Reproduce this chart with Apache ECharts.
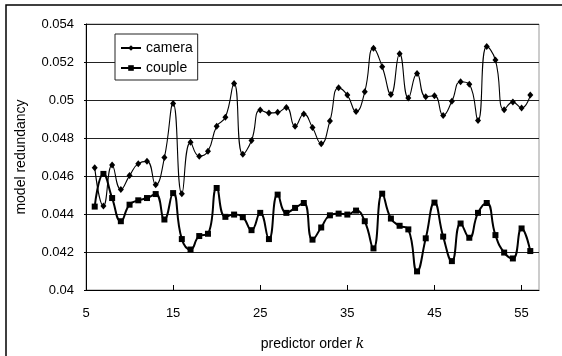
<!DOCTYPE html>
<html>
<head>
<meta charset="utf-8">
<script src="https://cdn.jsdelivr.net/npm/echarts@6/dist/echarts.min.js"></script>
<style>
  html, body { margin: 0; padding: 0; background: #fff; }
  #chart { width: 562px; height: 356px; }
</style>
</head>
<body>
<div id="chart"></div>
<script>
const orders = [6, 7, 8, 9, 10, 11, 12, 13, 14, 15, 16, 17, 18, 19, 20, 21, 22, 23, 24, 25,
  26, 27, 28, 29, 30, 31, 32, 33, 34, 35, 36, 37, 38, 39, 40, 41, 42, 43, 44, 45,
  46, 47, 48, 49, 50, 51, 52, 53, 54, 55, 56];

const camera = [0.04644, 0.04442, 0.04658, 0.04529, 0.04602, 0.04665, 0.04677, 0.04554, 0.04697, 0.04982,
  0.04507, 0.04777, 0.04704, 0.04730, 0.04862, 0.04909, 0.05087, 0.04714, 0.04787, 0.04947,
  0.04932, 0.04935, 0.04961, 0.04862, 0.04926, 0.04855, 0.04770, 0.04890, 0.05064, 0.05026,
  0.04939, 0.05043, 0.05273, 0.05175, 0.05029, 0.05243, 0.05010, 0.05139, 0.05017, 0.05022,
  0.04919, 0.04993, 0.05096, 0.05083, 0.04892, 0.05282, 0.05210, 0.04949, 0.04989, 0.04958,
  0.05026];

const couple = [0.04439, 0.04611, 0.04484, 0.04362, 0.04449, 0.04472, 0.04484, 0.04505, 0.04371, 0.04510,
  0.04268, 0.04213, 0.04284, 0.04296, 0.04537, 0.04385, 0.04397, 0.04383, 0.04315, 0.04406,
  0.04268, 0.04502, 0.04406, 0.04432, 0.04458, 0.04265, 0.04329, 0.04393, 0.04402, 0.04397,
  0.04418, 0.04362, 0.04219, 0.04507, 0.04376, 0.04338, 0.04319, 0.04098, 0.04272, 0.04460,
  0.04281, 0.04152, 0.04350, 0.04275, 0.04406, 0.04458, 0.04289, 0.04197, 0.04166, 0.04324,
  0.04205];

const seriesNames = ['camera', 'couple'];
const xTicks = [5, 15, 25, 35, 45, 55];

const chart = echarts.init(document.getElementById('chart'));

const font = 'Liberation Sans, Arial, sans-serif';

chart.setOption({
  animation: false,
  backgroundColor: '#fff',
  textStyle: { fontFamily: font, color: '#000' },
  graphic: [
    {
      type: 'polyline',
      shape: { points: [[6, 356], [6, 5], [562, 5]] },
      style: { stroke: '#000', lineWidth: 1.5, fill: null },
      z: 100
    }
  ],
  grid: {
    left: 86,
    right: 23,
    top: 24,
    bottom: 64,
    show: true,
    borderColor: '#999',
    borderWidth: 1
  },
  legend: {
    data: seriesNames,
    orient: 'vertical',
    left: 115,
    top: 34,
    itemWidth: 20,
    itemHeight: 7,
    itemGap: 6,
    padding: [7, 5, 5, 5],
    backgroundColor: '#fff',
    borderColor: '#222',
    borderWidth: 1,
    textStyle: { fontSize: 14, color: '#000', fontFamily: font }
  },
  xAxis: {
    type: 'value',
    min: 5,
    max: 57,
    interval: 10,
    name: 'predictor order {i|k}',
    nameLocation: 'middle',
    nameGap: 47,
    nameTextStyle: {
      fontSize: 14,
      color: '#000',
      rich: { i: { fontStyle: 'italic', fontSize: 14, fontFamily: 'DejaVu Serif, serif' } }
    },
    axisLine: { onZero: false, lineStyle: { color: '#000', width: 1 } },
    axisTick: { inside: true, length: 5, lineStyle: { color: '#000' } },
    axisLabel: {
      fontSize: 13,
      color: '#000',
      margin: 17,
      showMaxLabel: false,
      formatter: v => (xTicks.indexOf(v) >= 0 ? String(v) : '')
    },
    splitLine: { show: false }
  },
  yAxis: {
    type: 'value',
    min: 0.04,
    max: 0.054,
    interval: 0.002,
    name: 'model redundancy',
    nameLocation: 'middle',
    nameGap: 58,
    nameTextStyle: { fontSize: 14, color: '#000' },
    axisLine: { show: true, lineStyle: { color: '#000', width: 1 } },
    axisTick: { show: true, length: 2, lineStyle: { color: '#000' } },
    axisLabel: {
      fontSize: 13,
      color: '#000',
      margin: 12,
      formatter: v => String(+v.toFixed(4))
    },
    splitLine: { show: true, lineStyle: { color: '#222', width: 1 } }
  },
  series: [
    {
      name: 'camera',
      type: 'line',
      smooth: 0.5,
      symbol: 'diamond',
      symbolSize: [6, 7],
      itemStyle: { color: '#000' },
      lineStyle: { color: '#000', width: 1.1 },
      data: orders.map((k, i) => [k, camera[i]]),
      z: 3
    },
    {
      name: 'couple',
      type: 'line',
      smooth: 0.5,
      symbol: 'rect',
      symbolSize: 6,
      itemStyle: { color: '#000' },
      lineStyle: { color: '#000', width: 2 },
      data: orders.map((k, i) => [k, couple[i]]),
      z: 4
    }
  ]
});
</script>
</body>
</html>
